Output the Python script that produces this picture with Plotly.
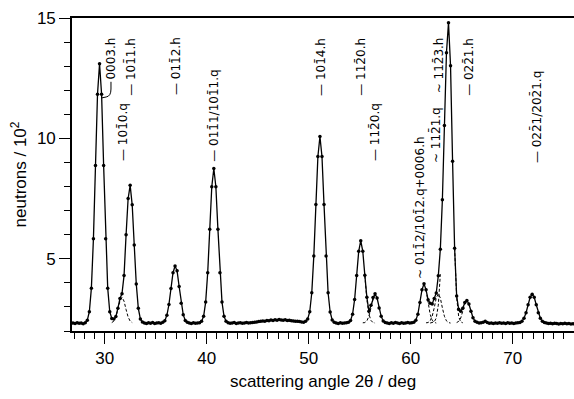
import plotly.graph_objects as go

# measurement grid: 2theta from 26.9 deg in 0.2 deg steps
angle_start = 26.9
angle_step = 0.2

# neutron counts / 10^2 (observed + fit profile)
counts = [
    2.33, 2.31, 2.34, 2.32, 2.33, 2.30, 2.34, 2.45, 2.80, 3.78,   # 26.9
    5.83, 8.87, 11.83, 13.10, 11.83, 8.87, 5.83, 3.78, 2.80, 2.52,  # 28.9
    2.50, 2.60, 2.95, 3.35, 3.55, 4.30, 6.00, 7.50, 8.05, 7.24,   # 30.9
    5.57, 3.95, 2.94, 2.50, 2.37, 2.33, 2.31, 2.34, 2.32, 2.35,   # 32.9
    2.31, 2.33, 2.34, 2.32, 2.36, 2.43, 2.65, 3.10, 3.77, 4.42,   # 34.9
    4.70, 4.50, 3.85, 3.15, 2.68, 2.44, 2.36, 2.33, 2.31, 2.34,   # 36.9
    2.32, 2.33, 2.34, 2.40, 2.61, 3.20, 4.42, 6.23, 7.99, 8.75,   # 38.9
    7.99, 6.23, 4.42, 3.20, 2.61, 2.40, 2.34, 2.32, 2.33, 2.35,   # 40.9
    2.31, 2.33, 2.34, 2.32, 2.33, 2.35, 2.33, 2.34, 2.35, 2.36,   # 42.9
    2.37, 2.39, 2.41, 2.42, 2.41, 2.44, 2.43, 2.46, 2.44, 2.47,   # 44.9
    2.45, 2.48, 2.46, 2.45, 2.47, 2.44, 2.45, 2.43, 2.42, 2.41,   # 46.9
    2.40, 2.39, 2.37, 2.36, 2.40, 2.50, 2.80, 3.59, 5.12, 7.25,   # 48.9
    9.25, 10.08, 9.25, 7.25, 5.12, 3.59, 2.79, 2.46, 2.36, 2.33,  # 50.9
    2.31, 2.34, 2.32, 2.33, 2.34, 2.36, 2.44, 2.70, 3.31, 4.30,   # 52.9
    5.31, 5.75, 5.31, 4.32, 3.40, 2.82, 3.07, 3.39, 3.55, 3.37,   # 54.9
    2.96, 2.61, 2.42, 2.35, 2.33, 2.31, 2.34, 2.32, 2.35, 2.33,   # 56.9
    2.31, 2.34, 2.32, 2.33, 2.35, 2.33, 2.34, 2.36, 2.45, 2.70,   # 58.9
    3.18, 3.71, 3.96, 3.71, 3.30, 3.15, 3.12, 3.35, 3.58, 4.29,   # 60.9
    5.40, 7.45, 10.53, 13.56, 14.80, 13.02, 9.05, 5.44, 3.45, 2.90,  # 62.9
    2.82, 2.95, 3.18, 3.27, 3.12, 2.82, 2.55, 2.41, 2.36, 2.33,   # 64.9
    2.34, 2.36, 2.40, 2.35, 2.32, 2.33, 2.31, 2.33, 2.32, 2.34,   # 66.9
    2.32, 2.33, 2.31, 2.34, 2.32, 2.33, 2.31, 2.33, 2.34, 2.35,   # 68.9
    2.40, 2.53, 2.76, 3.09, 3.40, 3.53, 3.40, 3.09, 2.76, 2.53,   # 70.9
    2.40, 2.35, 2.33, 2.31, 2.32, 2.30, 2.32, 2.31, 2.29, 2.31,   # 72.9
    2.30, 2.32, 2.30, 2.31, 2.29, 2.30,                           # 74.9
]
angles = [round(angle_start + angle_step * i, 1) for i in range(len(counts))]

# dashed single-reflection components in overlapping regions
comp_1010q_x = [30.7, 30.9, 31.1, 31.3, 31.5, 31.7, 31.9, 32.1, 32.3, 32.5, 32.7]
comp_1010q_y = [2.35, 2.41, 2.58, 2.89, 3.24, 3.40, 3.24, 2.89, 2.58, 2.41, 2.35]
comp_1120h_x = [55.5, 55.7, 55.9, 56.1, 56.3, 56.5]
comp_1120h_y = [4.30, 3.31, 2.70, 2.44, 2.35, 2.33]
comp_1120q_x = [55.3, 55.5, 55.7, 55.9, 56.1, 56.3, 56.5]
comp_1120q_y = [2.34, 2.35, 2.42, 2.61, 2.96, 3.37, 3.55]
comp_0112q_x = [61.5, 61.7, 61.9, 62.1, 62.3, 62.5]
comp_0112q_y = [3.71, 3.18, 2.70, 2.45, 2.36, 2.33]
comp_1121q_x = [61.5, 61.7, 61.9, 62.1, 62.3, 62.5, 62.7, 62.9, 63.1, 63.3, 63.5, 63.7, 63.9]
comp_1121q_y = [2.34, 2.35, 2.42, 2.61, 2.96, 3.37, 3.55, 3.37, 2.96, 2.61, 2.42, 2.35, 2.33]
comp_1123l_x = [61.9, 62.1, 62.3, 62.5, 62.7, 62.9]
comp_1123l_y = [2.33, 2.34, 2.38, 2.54, 3.07, 4.36]
comp_1123r_x = [64.3, 64.5, 64.7, 64.9, 65.1]
comp_1123r_y = [5.44, 3.39, 2.59, 2.38, 2.34]
comp_0221h_x = [64.5, 64.7, 64.9, 65.1, 65.3, 65.5]
comp_0221h_y = [2.35, 2.40, 2.54, 2.81, 3.11, 3.25]

components = [
    (comp_1010q_x, comp_1010q_y), (comp_1120h_x, comp_1120h_y),
    (comp_1120q_x, comp_1120q_y), (comp_0112q_x, comp_0112q_y),
    (comp_1121q_x, comp_1121q_y), (comp_1123l_x, comp_1123l_y),
    (comp_1123r_x, comp_1123r_y), (comp_0221h_x, comp_0221h_y),
]

# reflection labels: text, angle, lower end of label (neutrons / 10^2)
B = "\u0304"
label_text = [
    "0003.h",
    "\u2014 101" + B + "1.h",
    "\u2014 101" + B + "0.q",
    "\u2014 011" + B + "2.h",
    "\u2014 011" + B + "1/101" + B + "1.q",
    "\u2014 101" + B + "4.h",
    "\u2014 112" + B + "0.h",
    "\u2014 112" + B + "0.q",
    "~ 011" + B + "2/101" + B + "2.q+0006.h",
    "~ 112" + B + "1.q",
    "~ 112" + B + "3.h",
    "\u2014 022" + B + "1.h",
    "\u2014 022" + B + "1/202" + B + "1.q",
]
label_angle = [30.6, 32.55, 31.85, 37.05, 40.75, 51.25, 55.15, 56.55, 60.95, 62.4, 62.8, 65.75, 72.3]
label_base = [12.35, 11.67, 8.96, 11.7, 8.96, 11.7, 11.7, 8.96, 4.1, 8.9, 11.8, 11.7, 8.9]

FONT = "Liberation Sans, Arial, Helvetica, sans-serif"
LFONT = "DejaVu Sans, sans-serif"

fig = go.Figure()
for cx, cy in components:
    fig.add_trace(go.Scatter(x=cx, y=cy, mode="lines",
                             line=dict(color="black", width=1, dash="3px,2px"),
                             hoverinfo="skip", showlegend=False))
fig.add_trace(go.Scatter(x=angles, y=counts, mode="lines+markers",
                         line=dict(color="black", width=1.3),
                         marker=dict(color="black", size=3.5),
                         showlegend=False))

for t, a, b in zip(label_text, label_angle, label_base):
    fig.add_annotation(x=a, y=b, xref="x", yref="y", text=t, textangle=-90,
                       showarrow=False, xanchor="center", yanchor="bottom",
                       font=dict(family=LFONT, size=12, color="black"))

# leader for 0003.h
fig.add_shape(type="path", xref="x", yref="y",
              path="M 30.62 12.35 L 30.62 12.05 Q 30.62 11.75 30.15 11.72 L 29.7 11.68",
              line=dict(color="black", width=1))

fig.update_layout(
    width=574, height=399,
    margin=dict(l=72, r=0, t=18, b=68),
    paper_bgcolor="white", plot_bgcolor="white",
    font=dict(family=FONT, size=17, color="black"),
    xaxis=dict(range=[26.8, 76.0], showgrid=False, zeroline=False, automargin=False,
               showline=True, linecolor="black", linewidth=1.6, mirror=True,
               ticks="outside", ticklen=11, tickwidth=1.4, tickcolor="black",
               tick0=0, dtick=10,
               minor=dict(ticks="outside", dtick=1, ticklen=6, tickwidth=1.2, tickcolor="black"),
               tickfont=dict(family=FONT, size=17, color="black"),
               title=dict(text="scattering angle 2\u03b8 / deg", standoff=8,
                          font=dict(family=FONT, size=17, color="black"))),
    yaxis=dict(range=[2, 15], showgrid=False, zeroline=False, automargin=False,
               showline=True, linecolor="black", linewidth=1.6,
               ticks="outside", ticklen=11, tickwidth=1.4, tickcolor="black",
               tick0=0, dtick=5,
               minor=dict(ticks="outside", dtick=1, ticklen=6, tickwidth=1.2, tickcolor="black"),
               tickfont=dict(family=FONT, size=17, color="black"),
               title=dict(text="neutrons / 10<sup>2</sup>", standoff=6,
                          font=dict(family=FONT, size=17, color="black"))),
)

fig.write_html("out.html", config={"displayModeBar": False},
               post_script="document.body.style.margin='0';document.body.style.overflow='hidden';")
